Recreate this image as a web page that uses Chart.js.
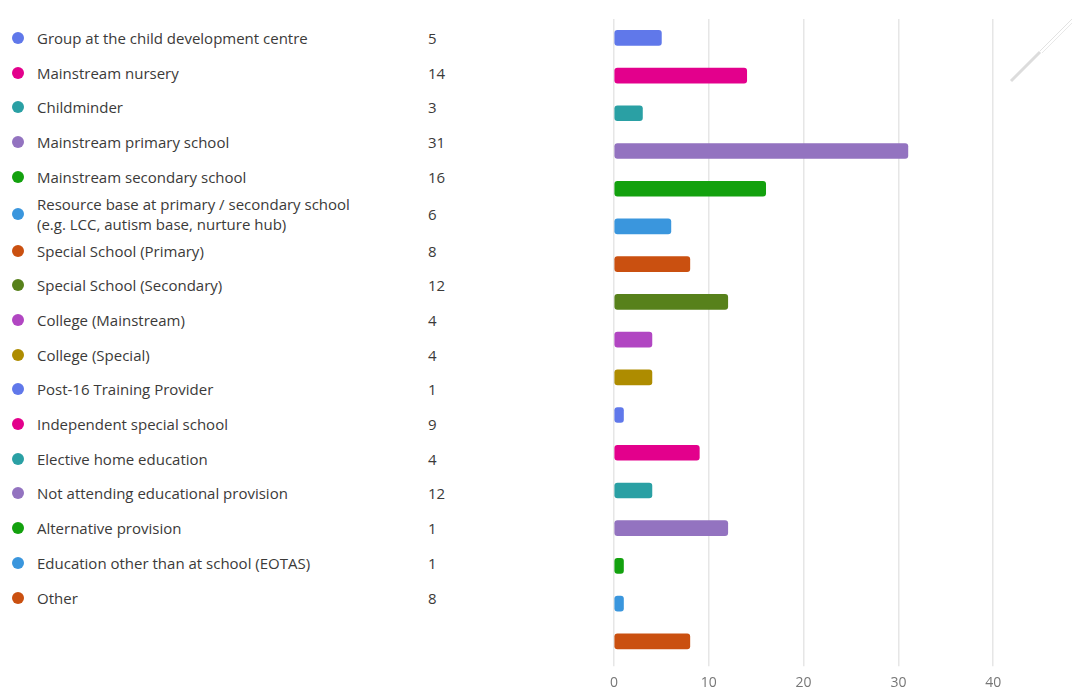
<!DOCTYPE html>
<html>
<head>
<meta charset="utf-8">
<script src="https://cdn.jsdelivr.net/npm/chart.js@4.4.1/dist/chart.umd.min.js"></script>
<style>
  html, body { margin: 0; padding: 0; background: #fff; overflow: hidden; }
  body { width: 1072px; height: 687px; position: relative; font-family: "Open Sans", "Noto Sans", sans-serif; }
  #legend { position: absolute; left: 0; top: 20.6px; width: 480px; }
  .row { position: relative; height: 34.7px; }
  .row.tall { height: 39.3px; }
  .dot { position: absolute; left: 12px; top: 50%; width: 12px; height: 12px; margin-top: -6px; border-radius: 50%; }
  .label { position: absolute; left: 37px; top: 50%; transform: translateY(-50%); width: 340px; font-size: 15px; line-height: 20px; color: #3b3a39; }
  .count { position: absolute; left: 428px; top: 50%; transform: translateY(-50%); font-size: 15px; line-height: 20px; color: #3b3a39; }
  #chartBox { position: absolute; left: 600px; top: 0; width: 508px; height: 701px; }
  #grip { position: absolute; left: 1005px; top: 15px; }
</style>
</head>
<body>
<div id="legend"></div>
<div id="chartBox"><canvas id="chart"></canvas></div>
<svg id="grip" width="70" height="72">
  <line x1="6" y1="66" x2="35" y2="37" stroke="#dcdcdc" stroke-width="3" />
  <line x1="35" y1="36" x2="69" y2="2" stroke="#e2e2e2" stroke-width="1" />
  <line x1="37" y1="38" x2="69" y2="6" stroke="#e8e8e8" stroke-width="1" />
</svg>
<script>
// categories and counts
const categories = [
  "Group at the child development centre",
  "Mainstream nursery",
  "Childminder",
  "Mainstream primary school",
  "Mainstream secondary school",
  "Resource base at primary / secondary school (e.g. LCC, autism base, nurture hub)",
  "Special School (Primary)",
  "Special School (Secondary)",
  "College (Mainstream)",
  "College (Special)",
  "Post-16 Training Provider",
  "Independent special school",
  "Elective home education",
  "Not attending educational provision",
  "Alternative provision",
  "Education other than at school (EOTAS)",
  "Other"
];
const counts = [5, 14, 3, 31, 16, 6, 8, 12, 4, 4, 1, 9, 4, 12, 1, 1, 8];
const xTicks = [0, 10, 20, 30, 40, 50];

// palette repeats every 10
const palette = ["#6078ea", "#e3008c", "#2aa0a4", "#9373c0", "#13a10e",
                 "#3a96dd", "#ca5010", "#57811b", "#b146c2", "#ae8c00"];
const colors = categories.map((c, i) => palette[i % palette.length]);

// legend list on the left
const legend = document.getElementById("legend");
categories.forEach((name, i) => {
  const row = document.createElement("div");
  row.className = name.length > 45 ? "row tall" : "row";
  row.innerHTML = `<span class="dot" style="background:${colors[i]}"></span>
    <span class="label">${name}</span>
    <span class="count">${counts[i]}</span>`;
  legend.appendChild(row);
});

// bars
const ctx = document.getElementById("chart").getContext("2d");
new Chart(ctx, {
  type: "bar",
  data: {
    labels: categories,
    datasets: [{
      data: counts,
      backgroundColor: colors,
      borderRadius: 3,
      borderSkipped: false,
      barThickness: 15
    }]
  },
  options: {
    indexAxis: "y",
    responsive: true,
    maintainAspectRatio: false,
    animation: false,
    layout: { padding: { left: 14, right: 20, top: 19, bottom: 2 } },
    plugins: { legend: { display: false }, tooltip: { enabled: false } },
    scales: {
      y: { display: false },
      x: {
        min: xTicks[0],
        max: xTicks[xTicks.length - 1],
        afterBuildTicks: axis => { axis.ticks = xTicks.map(v => ({ value: v })); },
        grid: { color: "#e6e6e6", lineWidth: 1.5, tickLength: 6 },
        border: { display: false },
        ticks: { color: "#777", padding: 8, font: { family: "Open Sans", size: 14 } }
      }
    }
  }
});
</script>
</body>
</html>
